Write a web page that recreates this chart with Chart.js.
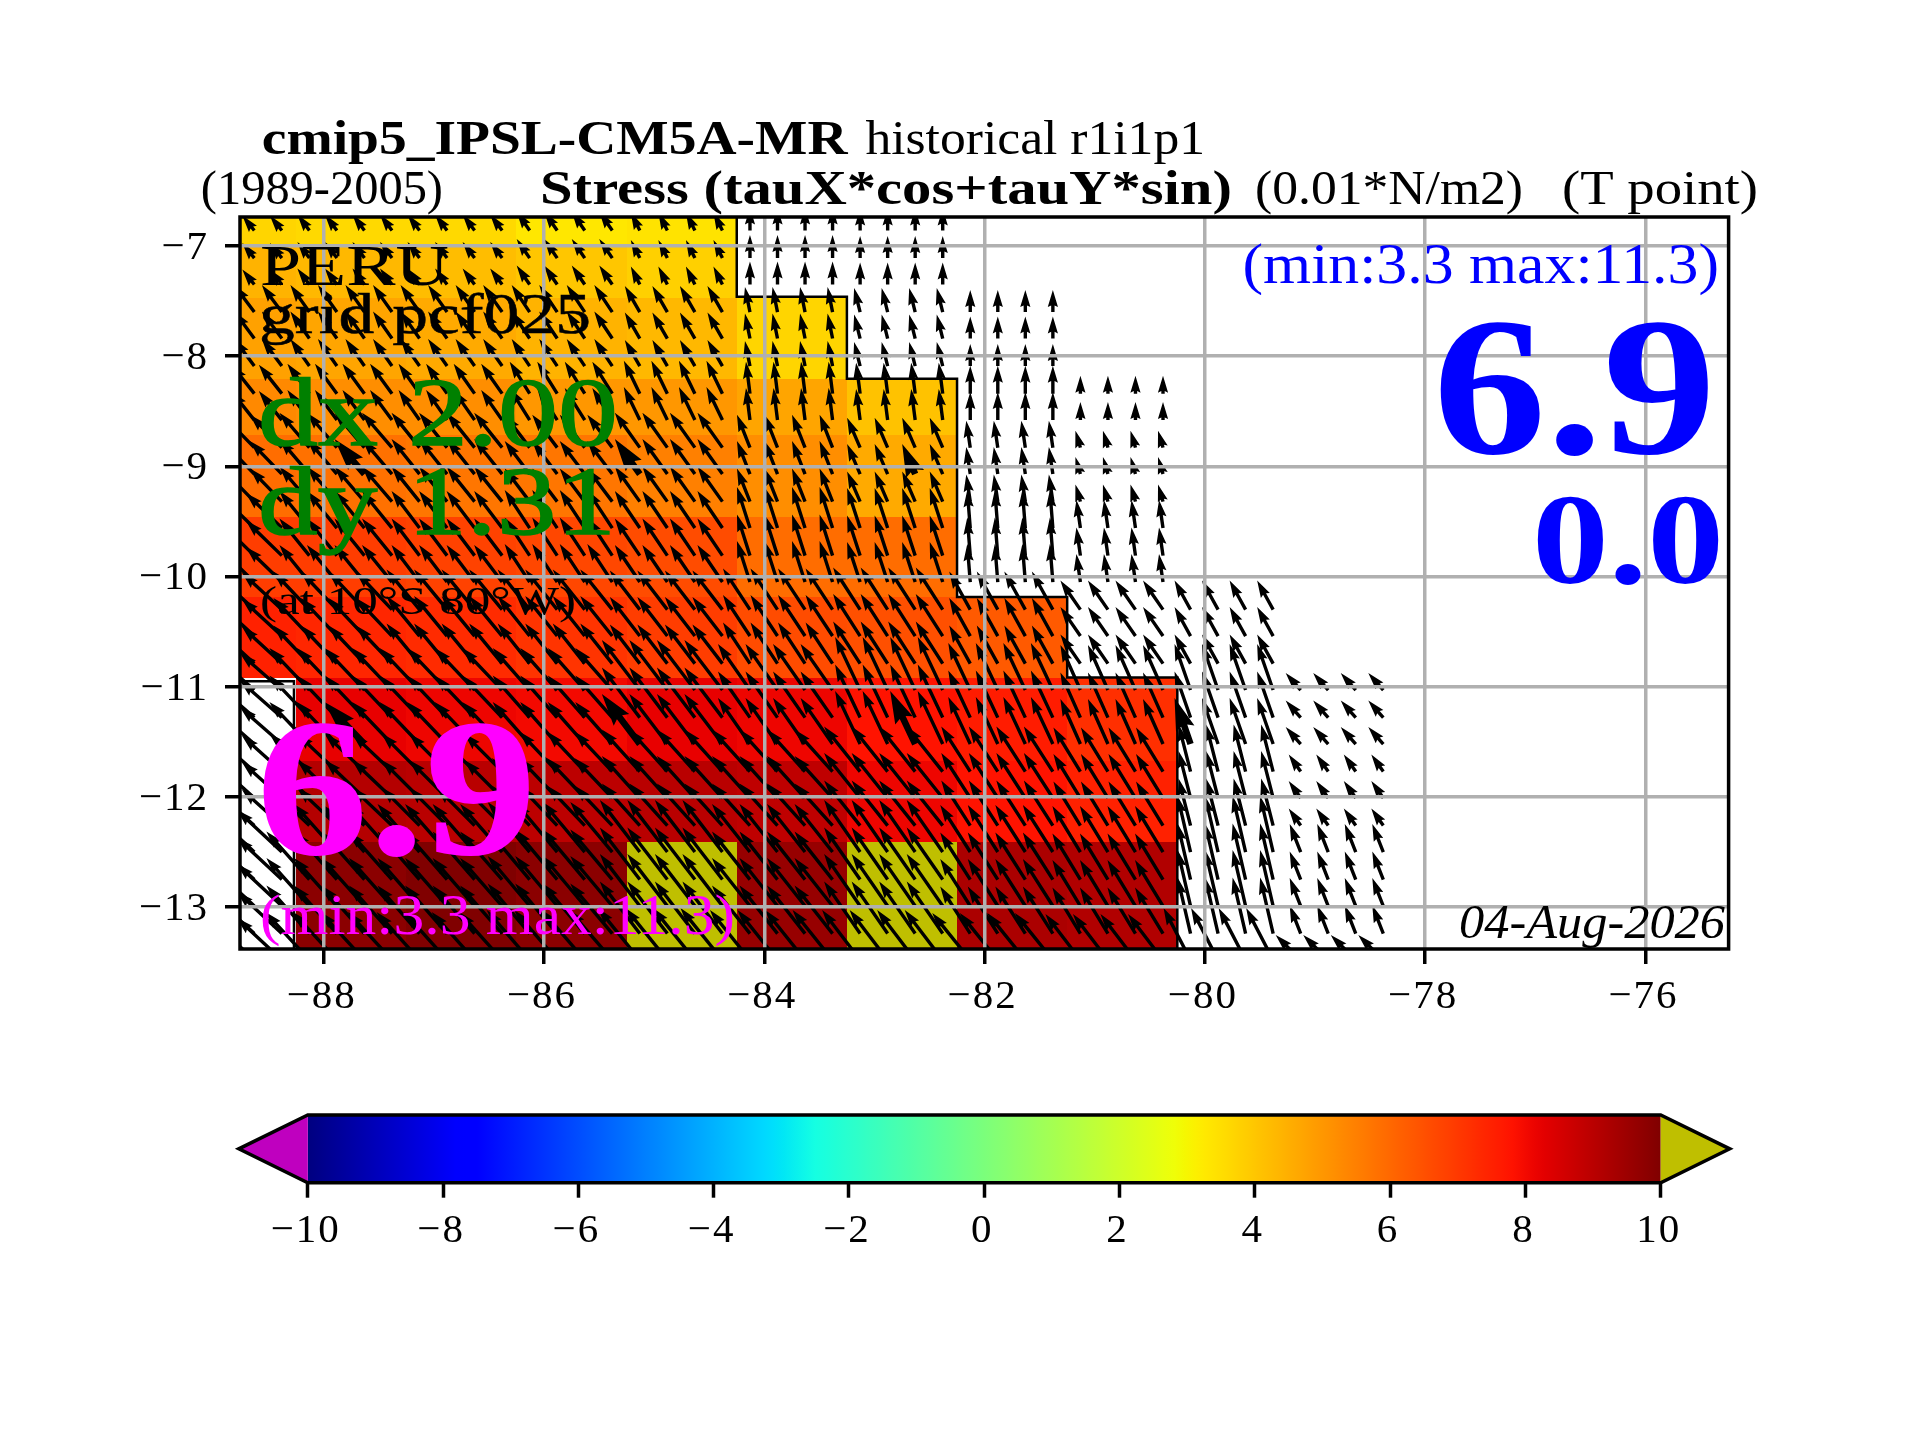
<!DOCTYPE html>
<html>
<head>
<meta charset="utf-8">
<title>Stress</title>
<script src="https://cdn.jsdelivr.net/npm/chart.js@4/dist/chart.umd.min.js"></script>
<style>
body { margin: 0; background: #fff; }
#wrap { position: relative; width: 1920px; height: 1440px; }
canvas { position: absolute; left: 0; }
#mapChart { top: 0; }
#barChart { top: 1090px; }
</style>
</head>
<body>
<div id="wrap">
<canvas id="mapChart" width="1920" height="1440"></canvas>
<canvas id="barChart" width="1920" height="180"></canvas>
</div>
<script>
// data block
const xTicks = [-88, -86, -84, -82, -80, -78, -76];
const yTicks = [-13, -12, -11, -10, -9, -8, -7];
const barTicks = [-10, -8, -6, -4, -2, 0, 2, 4, 6, 8, 10];

// coloured cells, one value per cell, null is land
const cellLons = [-88.76, -88.25, -87.25, -86.25, -85.25, -84.25, -83.25, -82.25, -81.25, -80.25];
const cellLats = [-6.737, -7.0, -7.47, -8.21, -8.715, -9.46, -10.19, -10.92, -11.67, -12.41, -13.38];
const cellValues = [
    [3.7, 3.6, 3.6, 3.3, 3.4, null, null, null, null],
    [4.4, 4.3, 4.2, 4.0, 3.8, null, null, null, null],
    [4.8, 4.7, 4.6, 4.4, 4.3, 3.7, null, null, null],
    [5.3, 5.2, 5.2, 5.0, 5.0, 4.7, 4.1, null, null],
    [5.9, 5.8, 5.7, 5.7, 5.5, 5.2, 4.6, null, null],
    [6.9, 6.9, 6.8, 6.7, 6.6, 5.9, 5.9, null, null],
    [7.5, 7.4, 7.3, 7.1, 6.9, 6.6, 6.5, 6.3, null],
    [null, 8.2, 8.1, 8.0, 8.2, 8.1, 7.8, 7.6, 7.2],
    [null, 9.1, 9.0, 8.95, 9.0, 8.9, 8.1, 7.8, 7.5],
    [null, 9.8, 10, 9.8, 10.9, 9.6, 11.3, 9.25, 9.15]
];

// black outline of the land mask
const coastLons = [-84.25, -84.25, -83.25, -83.25, -82.25, -82.25, -81.25, -81.25, -80.25, -80.25];
const coastLats = [-6.737, -7.46, -7.46, -8.205, -8.205, -10.185, -10.185, -10.915, -10.915, -13.38];
const islandLons = [-88.76, -88.27, -88.27];
const islandLats = [-10.95, -10.95, -13.38];

// arrow tails
const arrowLons = [-78.38, -78.63, -78.88, -79.13, -79.38, -79.63, -79.88, -80.13, -80.38, -80.63, -80.88, -81.13,
    -81.38, -81.63, -81.88, -82.13, -82.38, -82.63, -82.88, -83.13, -83.38, -83.63, -83.88, -84.13,
    -84.38, -84.63, -84.88, -85.13, -85.38, -85.63, -85.88, -86.13, -86.38, -86.63, -86.88, -87.13,
    -87.38, -87.63, -87.88, -88.13, -88.38, -88.63];
const arrowLats = [-6.86, -7.11, -7.35, -7.60, -7.84, -8.09, -8.34, -8.58, -8.83, -9.07, -9.32, -9.56, -9.81, -10.05,
    -10.30, -10.54, -10.79, -11.03, -11.28, -11.52, -11.77, -12.01, -12.26, -12.50, -12.75, -12.99, -13.24, -13.48];
// which block of stressU / stressV each arrow reads
const lonBlock = [0,0,0,0, 1,1,1,1, 2,2,2,2, 3,3,3,3, 4,4,4,4, 5,5,5,5, 6,6,6,6, 7,7,7,7, 8,8,8,8, 9,9,9,9, 10,10];
const latBlock = [0,0,0, 1,1,1, 2,2, 3,3,3, 4,4,4, 5,5,5, 6,6,6, 7,7,7, 8,8,8,8, 9];
const stressU = [
    [null, null, null, null, 0, 0, -9, -13, -12, -12, -12],
    [null, null, null, 0, -6, -5, -15, -18, -19, -19, -20],
    [null, null, 0, 0, -4, -4, -16, -20, -21, -22, -23],
    [null, null, -5, -4, -13, -13, -25, -25, -28, -30, -32],
    [null, null, -4, -3, -13, -13, -25, -25, -28, -30, -36],
    [null, -16, -20, -21, -27, -27, -30, -32, -33, -36, -40],
    [-15, -16, -20, -22, -25, -32, -38, -37, -40, -40, -42],
    [-12, -12, -27, -29, -36, -38, -38, -38, -38, -40, -40],
    [-11, -13, -28, -30, -36, -38, -40, -42, -42, -43, -45],
    [-25, -27, -35, -38, -38, -40, -42, -43, -43, -44, -45]
];
const stressV = [
    [null, null, null, null, 22, 23, 18, 19, 16, 16, 15],
    [null, null, null, 22, 24, 25, 26, 27, 27, 27, 27],
    [null, null, 18, 28, 31, 32, 33, 32, 30, 30, 29],
    [null, null, 17, 27, 30, 33, 35, 33, 35, 35, 33],
    [null, null, 28, 38, 40, 41, 37, 38, 37, 37, 35],
    [null, 29, 29, 38, 42, 41, 39, 40, 40, 38, 37],
    [17, 46, 45, 47, 53, 46, 50, 42, 42, 42, 37],
    [17, 47, 44, 45, 45, 42, 42, 40, 38, 38, 36],
    [28, 56, 46, 47, 52, 48, 52, 50, 48, 48, 42],
    [25, 52, 46, 47, 50, 50, 52, 50, 48, 48, 42]
];
// the few arrows drawn heavier
const heavyCols = [7, 17, 27, 37];
const heavyRows = [9, 19];

const overColor = '#bfbf00';
const underColor = '#bf00bf';
const serif = '"Liberation Serif"';

//setup block
function jet(t) {
    const ramp = (pts) => {
        if (t <= pts[0][0]) return pts[0][1];
        for (let i = 1; i < pts.length; i++) {
            if (t <= pts[i][0]) {
                const f = (t - pts[i - 1][0]) / (pts[i][0] - pts[i - 1][0]);
                return pts[i - 1][1] + f * (pts[i][1] - pts[i - 1][1]);
            }
        }
        return pts[pts.length - 1][1];
    };
    const r = ramp([[0.35, 0], [0.66, 1], [0.89, 1], [1, 0.5]]);
    const g = ramp([[0.125, 0], [0.375, 1], [0.64, 1], [0.91, 0]]);
    const b = ramp([[0, 0.5], [0.11, 1], [0.34, 1], [0.65, 0]]);
    return 'rgb(' + Math.round(r * 255) + ',' + Math.round(g * 255) + ',' + Math.round(b * 255) + ')';
}

function valueColor(v) {
    if (v > 10) return overColor;
    if (v < -10) return underColor;
    return jet((v + 10) / 20);
}

const minus = (v) => String(v).replace('-', '\u2212');

const arrowPoints = [];
arrowLats.forEach((lat, k) => {
    arrowLons.forEach((lon, i) => {
        const u = stressU[latBlock[k]][lonBlock[i]];
        const v = stressV[latBlock[k]][lonBlock[i]];
        if (u === null) return;
        const heavy = heavyCols.includes(i) && heavyRows.includes(k);
        arrowPoints.push({x: lon, y: lat, u: u, v: v, heavy: heavy});
    });
});

const pairs = (xs, ys) => xs.map((x, i) => ({x: x, y: ys[i]}));

// labels: text, left, right, baseline, size, style, colour, extra stroke
const labels = [
    ['cmip5_IPSL-CM5A-MR', 261.8, 847.5, 154, 48, 'bold', '#000', 0],
    ['historical r1i1p1', 865.4, 1205, 154, 48, '', '#000', 0],
    ['(1989-2005)', 200.8, 443, 204, 48, '', '#000', 0],
    ['Stress (tauX*cos+tauY*sin)', 540, 1232, 204, 48, 'bold', '#000', 0],
    ['(0.01*N/m2)', 1255, 1523, 204, 48, '', '#000', 0],
    ['(T point)', 1562, 1758, 204, 48, '', '#000', 0],
    ['PERU', 260, 449, 285, 58, '', '#000', 0],
    ['grid pcf025', 259, 591, 333, 57, '', '#000', 0.5],
    ['dx 2.00', 258, 618, 445, 97, '', '#008000', 1.4],
    ['dy 1.31', 258, 616, 534, 97, '', '#008000', 1.4],
    ['(at 10\u00b0S 80\u00b0W)', 260, 576, 614, 41, '', '#000', 0],
    ['6.9', 256, 537, 854, 198, 'bold', '#ff00ff', 0],
    ['(min:3.3 max:11.3)', 260, 735, 934, 56, '', '#ff00ff', 0],
    ['(min:3.3 max:11.3)', 1242.5, 1719, 283, 56, '', '#0000ff', 0],
    ['6.9', 1433, 1716, 452.7, 198, 'bold', '#0000ff', 0],
    ['0.0', 1532, 1724, 583, 129, 'bold', '#0000ff', 0],
    ['04-Aug-2026', 1459, 1725, 938.3, 48, 'italic', '#000', 0]
];

function drawLabel(ctx, l) {
    ctx.save();
    ctx.letterSpacing = '0px';
    ctx.font = (l[5] ? l[5] + ' ' : '') + l[4] + 'px ' + serif;
    ctx.fillStyle = l[6];
    ctx.textAlign = 'left';
    ctx.textBaseline = 'alphabetic';
    const w = ctx.measureText(l[0]).width;
    ctx.translate(l[1], l[3]);
    ctx.scale((l[2] - l[1]) / w, 1);
    ctx.fillText(l[0], 0, 0);
    if (l[7]) {
        ctx.strokeStyle = l[6];
        ctx.lineWidth = l[7];
        ctx.strokeText(l[0], 0, 0);
    }
    ctx.restore();
}

function drawArrow(ctx, x, y, dx, dy, w) {
    const len = Math.sqrt(dx * dx + dy * dy);
    // short arrows shrink as a whole, like quiver does
    const s = len < 5 * w ? len / (5 * w) : 1;
    const ww = w * s;
    ctx.save();
    ctx.translate(x, y);
    ctx.rotate(Math.atan2(-dy, dx));
    ctx.beginPath();
    ctx.moveTo(0, -ww / 2);
    ctx.lineTo(len - 4.5 * ww, -ww / 2);
    ctx.lineTo(len - 5 * ww, -1.5 * ww);
    ctx.lineTo(len, 0);
    ctx.lineTo(len - 5 * ww, 1.5 * ww);
    ctx.lineTo(len - 4.5 * ww, ww / 2);
    ctx.lineTo(0, ww / 2);
    ctx.closePath();
    ctx.fillStyle = '#000';
    ctx.fill();
    ctx.restore();
}

// tick labels of computer modern run wider than the serif we have
const tickSpacingPlugin = {
    id: 'tickSpacing',
    beforeDraw(chart) {
        chart.ctx.letterSpacing = '2px';
    }
};

const cellsPlugin = {
    id: 'cells',
    beforeDatasetsDraw(chart) {
        const ctx = chart.ctx, xs = chart.scales.x, ys = chart.scales.y;
        cellValues.forEach((row, r) => {
            row.forEach((v, c) => {
                if (v === null) return;
                const x0 = Math.round(xs.getPixelForValue(cellLons[c]));
                const x1 = Math.round(xs.getPixelForValue(cellLons[c + 1] === undefined ? -80.25 : cellLons[c + 1]));
                const y0 = Math.round(ys.getPixelForValue(cellLats[r]));
                const y1 = Math.round(ys.getPixelForValue(cellLats[r + 1]));
                ctx.fillStyle = valueColor(v);
                ctx.fillRect(x0, y0, x1 - x0, y1 - y0);
            });
        });
    }
};

const quiverPlugin = {
    id: 'quiver',
    afterDatasetsDraw(chart) {
        const ctx = chart.ctx, xs = chart.scales.x, ys = chart.scales.y, a = chart.chartArea;
        ctx.save();
        ctx.beginPath();
        ctx.rect(a.left, a.top, a.right - a.left, a.bottom - a.top);
        ctx.clip();
        chart.data.datasets[0].data.forEach((p) => {
            drawArrow(ctx, xs.getPixelForValue(p.x), ys.getPixelForValue(p.y), p.u, p.v, p.heavy ? 6.5 : 3.4);
        });
        ctx.restore();
    },
    afterDraw(chart) {
        const ctx = chart.ctx, a = chart.chartArea;
        ctx.save();
        ctx.strokeStyle = '#000';
        ctx.lineWidth = 3.5;
        ctx.strokeRect(a.left, a.top, a.right - a.left, a.bottom - a.top);
        ctx.restore();
        labels.forEach((l) => drawLabel(ctx, l));
    }
};

//config block
const mapConfig = {
    type: 'scatter',
    plugins: [tickSpacingPlugin, cellsPlugin, quiverPlugin],
    data: {
        datasets: [
            {label: 'stress', data: arrowPoints, pointRadius: 0, showLine: false},
            {label: 'coast', data: pairs(coastLons, coastLats), showLine: true, pointRadius: 0, borderColor: '#000', borderWidth: 2.5},
            {label: 'island', data: pairs(islandLons, islandLats), showLine: true, pointRadius: 0, borderColor: '#000', borderWidth: 2.5}
        ]
    },
    options: {
        responsive: false,
        animation: false,
        devicePixelRatio: 1,
        layout: {padding: {left: 0, top: 217, right: 191.4, bottom: 0}},
        plugins: {legend: {display: false}, tooltip: {enabled: false}},
        scales: {
            x: {
                type: 'linear',
                min: -88.76,
                max: -75.245,
                afterFit: (s) => { s.height = 491; },
                afterBuildTicks: (s) => { s.ticks = xTicks.map((v) => ({value: v})); },
                grid: {z: 1, color: '#b0b0b0', lineWidth: 3.5, tickColor: '#000', tickWidth: 3.5, tickLength: 15},
                border: {display: false},
                ticks: {
                    font: {family: serif, size: 41},
                    color: '#000',
                    padding: 9,
                    labelOffset: -2,
                    maxRotation: 0,
                    callback: (v) => minus(v)
                }
            },
            y: {
                type: 'linear',
                min: -13.38,
                max: -6.737,
                afterFit: (s) => { s.width = 240; },
                afterBuildTicks: (s) => { s.ticks = yTicks.map((v) => ({value: v})); },
                grid: {z: 1, color: '#b0b0b0', lineWidth: 3.5, tickColor: '#000', tickWidth: 3.5, tickLength: 15},
                border: {display: false},
                ticks: {
                    font: {family: serif, size: 41},
                    color: '#000',
                    padding: 16,
                    labelOffset: 2,
                    callback: (v) => minus(v)
                }
            }
        }
    }
};

const colorbarPlugin = {
    id: 'colorbar',
    beforeDatasetsDraw(chart) {
        const ctx = chart.ctx, xs = chart.scales.x, a = chart.chartArea;
        const left = xs.getPixelForValue(-10), right = xs.getPixelForValue(10);
        const tipL = xs.getPixelForValue(-11.02), tipR = xs.getPixelForValue(11.02);
        const mid = (a.top + a.bottom) / 2;
        const grad = ctx.createLinearGradient(left, 0, right, 0);
        for (let i = 0; i <= 128; i++) grad.addColorStop(i / 128, jet(i / 128));
        ctx.fillStyle = grad;
        ctx.fillRect(left, a.top, right - left, a.bottom - a.top);
        ctx.fillStyle = underColor;
        ctx.beginPath();
        ctx.moveTo(left, a.top); ctx.lineTo(tipL, mid); ctx.lineTo(left, a.bottom); ctx.closePath();
        ctx.fill();
        ctx.fillStyle = overColor;
        ctx.beginPath();
        ctx.moveTo(right, a.top); ctx.lineTo(tipR, mid); ctx.lineTo(right, a.bottom); ctx.closePath();
        ctx.fill();
        ctx.strokeStyle = '#000';
        ctx.lineWidth = 3.5;
        ctx.beginPath();
        ctx.moveTo(left, a.top); ctx.lineTo(right, a.top); ctx.lineTo(tipR, mid); ctx.lineTo(right, a.bottom);
        ctx.lineTo(left, a.bottom); ctx.lineTo(tipL, mid); ctx.closePath();
        ctx.stroke();
    }
};

const barConfig = {
    type: 'scatter',
    plugins: [tickSpacingPlugin, colorbarPlugin],
    data: {datasets: [{label: 'colorbar', data: [], pointRadius: 0}]},
    options: {
        responsive: false,
        animation: false,
        devicePixelRatio: 1,
        layout: {padding: {left: 307.8, top: 25, right: 259.3, bottom: 0}},
        plugins: {legend: {display: false}, tooltip: {enabled: false}},
        scales: {
            x: {
                type: 'linear',
                min: -10,
                max: 10,
                afterFit: (s) => { s.height = 87.3; },
                afterBuildTicks: (s) => { s.ticks = barTicks.map((v) => ({value: v})); },
                grid: {drawOnChartArea: false, tickColor: '#000', tickWidth: 3.5, tickLength: 15},
                border: {display: false},
                ticks: {
                    font: {family: serif, size: 41},
                    color: '#000',
                    padding: 9,
                    labelOffset: -2,
                    maxRotation: 0,
                    callback: (v) => minus(v)
                }
            },
            y: {display: false, min: 0, max: 1}
        }
    }
};

//render block
const mapChart = new Chart(document.getElementById('mapChart').getContext('2d'), mapConfig);
const barChart = new Chart(document.getElementById('barChart').getContext('2d'), barConfig);
</script>
</body>
</html>
